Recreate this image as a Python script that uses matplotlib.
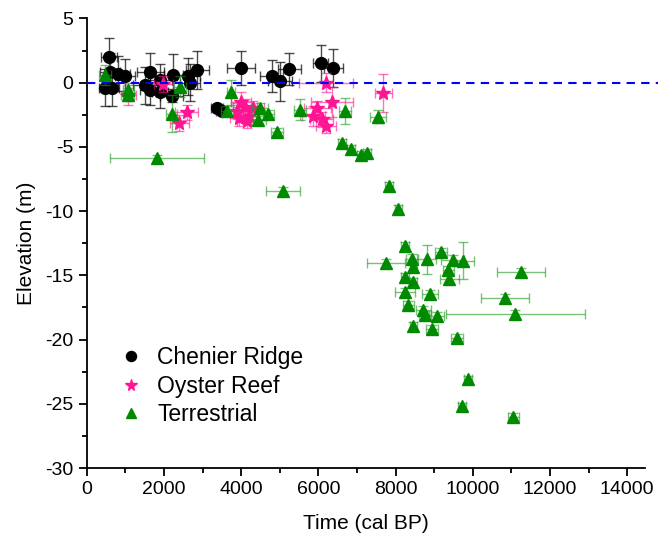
import matplotlib
matplotlib.use("Agg")
import matplotlib.pyplot as plt
from matplotlib.ticker import MultipleLocator

plt.rcParams['font.family'] = ['Liberation Sans', 'DejaVu Sans']
plt.rcParams['axes.unicode_minus'] = False

# Chenier Ridge
cr_x = [580, 604, 474, 648, 820, 992, 1510, 1640, 1640, 1900, 1900, 2200, 2245, 2632, 2675, 2866,
        3368, 3497, 3998, 4793, 5008, 5250, 6062, 6390]
cr_y = [2.0, 0.85, -0.4, -0.4, 0.7, 0.5, -0.2, 0.85, -0.55, 0.2, -0.75, -1.0, 0.6, 0.5, 0.0, 1.0,
        -2.0, -2.2, 1.15, 0.5, 0.1, 1.05, 1.5, 1.15]
cr_xerr = [200, 250, 150, 200, 300, 250, 300, 350, 250, 300, 200, 300, 250, 300, 250, 300,
           150, 150, 370, 300, 300, 300, 200, 250]
cr_yerr = [1.5, 1.45, 1.45, 1.45, 1.35, 1.35, 1.45, 1.45, 1.15, 1.25, 1.25, 0.5, 1.6, 1.45, 1.45, 1.5,
           0.3, 0.3, 1.35, 1.25, 1.5, 1.25, 1.45, 1.45]

# Oyster Reef
oy_x = [1078, 1985, 2590, 2400, 3900, 4000, 4100, 4200, 4300, 3950, 4150, 6200, 5975, 6350,
        5870, 6090, 6200, 7684]
oy_y = [-0.95, -0.1, -2.3, -3.15, -2.2, -1.5, -1.9, -2.6, -2.0, -2.75, -2.95, 0.0, -2.0, -1.5,
        -2.6, -2.85, -3.35, -0.8]
oy_xerr = [200, 250, 300, 250, 300, 250, 300, 250, 300, 250, 250, 700, 350, 550, 300, 300, 250, 220]
oy_yerr = [0.75, 0.6, 0.6, 0.6, 0.65, 0.75, 0.6, 0.65, 0.6, 0.6, 0.6, 0.75, 0.6, 1.15, 0.75, 0.6, 0.6, 1.5]

# Terrestrial
te_x = [474, 1078, 1078, 2200, 2417, 1813, 3738, 3627, 4490, 4705, 4446, 4922, 5526, 5085,
        6692, 7539, 6606, 6839, 7106, 7254, 7832, 8073, 8246, 7754, 9179, 8808, 8420, 8461,
        9482, 9741, 9368, 8246, 8461, 9394, 8246, 8894, 8331, 8720, 8765, 9067, 8461, 8938,
        9585, 11251, 10837, 11096, 9870, 9715, 11052]
te_y = [0.6, -0.55, -0.95, -2.4, -0.3, -5.9, -0.75, -2.2, -2.0, -2.45, -2.9, -3.8, -2.1, -8.4,
        -2.2, -2.65, -4.7, -5.15, -5.65, -5.45, -8.05, -9.85, -12.7, -14.05, -13.15, -13.75, -13.7, -14.35,
        -13.8, -13.85, -14.55, -15.15, -15.5, -15.3, -16.3, -16.45, -17.3, -17.7, -18.1, -18.15, -18.95,
        -19.2, -19.9, -14.7, -16.75, -18.0, -23.1, -25.2, -26.0]
te_xerr = [150, 150, 150, 150, 150, 1220, 100, 150, 200, 150, 200, 150, 150, 450,
           150, 200, 100, 100, 100, 100, 100, 100, 100, 500, 150, 250, 150, 100,
           300, 300, 150, 100, 100, 250, 250, 200, 150, 200, 150, 200, 100, 150,
           150, 620, 630, 1800, 100, 100, 150]
te_yerr = [0.8, 0.5, 0.5, 1.45, 0.8, 0.3, 1.0, 0.4, 0.4, 0.3, 0.3, 0.3, 0.8, 0.3,
           1.0, 0.5, 0.3, 0.3, 0.3, 0.3, 0.3, 0.3, 0.3, 0.3, 0.3, 1.15, 0.4, 0.3,
           0.4, 1.45, 0.3, 0.3, 0.3, 0.3, 0.3, 0.3, 0.3, 0.3, 0.3, 0.3, 0.3, 0.3,
           0.3, 0.3, 0.3, 0.3, 0.3, 0.3, 0.3]

fig = plt.figure(figsize=(6.67, 5.44), dpi=100)
ax = fig.add_axes([0.13, 0.1397, 0.837, 0.8263])

ax.errorbar(cr_x, cr_y, xerr=cr_xerr, yerr=cr_yerr, fmt='none', ecolor='black', alpha=0.7,
            elinewidth=1, capsize=3.5, capthick=1, zorder=2)
ax.plot(cr_x, cr_y, 'o', color='black', markersize=8.5, linestyle='none', zorder=3,
        label='Chenier Ridge')

ax.errorbar(oy_x, oy_y, xerr=oy_xerr, yerr=oy_yerr, fmt='none', ecolor='#ff1493', alpha=0.6,
            elinewidth=1, capsize=3.5, capthick=1, zorder=4)
ax.plot(oy_x, oy_y, '*', color='#ff1493', markersize=10, linestyle='none', zorder=5,
        label='Oyster Reef')

ax.errorbar(te_x, te_y, xerr=te_xerr, yerr=te_yerr, fmt='none', ecolor='#1f9a1f', alpha=0.6,
            elinewidth=1, capsize=3.5, capthick=1, zorder=6)
ax.plot(te_x, te_y, '^', color='#008a00', markersize=8.5, linestyle='none', zorder=7,
        label='Terrestrial')

ax.plot([0, 14800], [0, 0], color='blue', linestyle=(0, (4, 3)), linewidth=1.5,
        zorder=10, clip_on=False)

ax.set_xlim(0, 14460)
ax.set_ylim(-30, 5)
ax.xaxis.set_major_locator(MultipleLocator(2000))
ax.xaxis.set_minor_locator(MultipleLocator(1000))
ax.yaxis.set_major_locator(MultipleLocator(5))
ax.yaxis.set_minor_locator(MultipleLocator(2.5))
ax.tick_params(which='major', direction='out', length=6, width=1.3, labelsize=14)
ax.tick_params(which='minor', direction='out', length=3.5, width=1.3)
ax.spines['top'].set_visible(False)
ax.spines['right'].set_visible(False)
ax.spines['left'].set_linewidth(1.3)
ax.spines['bottom'].set_linewidth(1.3)

ax.set_xlabel('Time (cal BP)', fontsize=15, labelpad=11.5)
ax.set_ylabel('Elevation (m)', fontsize=15, labelpad=7)

ax.legend(loc='lower left', bbox_to_anchor=(0.022, 0.047), frameon=False, fontsize=16.5,
          borderpad=0.4, handletextpad=0.65, labelspacing=0.25, handlelength=1.0,
          markerscale=0.85)

fig.savefig('out.png', dpi=100)
